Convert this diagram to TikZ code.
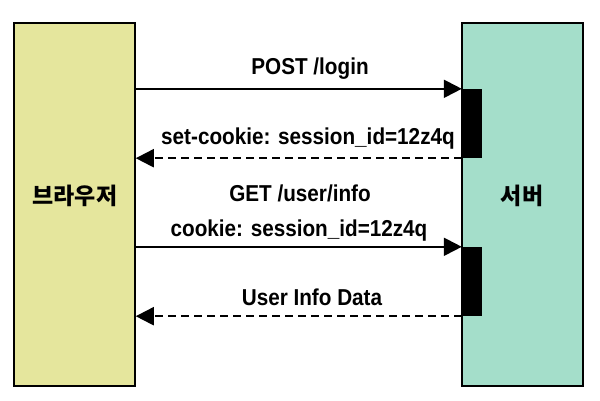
\documentclass[tikz,border=0pt]{standalone}
\usepackage{fontspec}
\setmainfont{Liberation Sans}
\newfontfamily\kr{Noto Sans CJK KR Black}
\usetikzlibrary{arrows.meta}
\definecolor{lyellow}{HTML}{E5E69D}
\definecolor{lgreen}{HTML}{A4DECA}
\newcommand{\narrowtext}[1]{\scalebox{0.9}[1]{#1}}
\tikzset{
  lane/.style={draw=black, line width=1.5pt, minimum width=121pt, minimum height=363pt, inner sep=0pt},
  actbar/.style={fill=black, draw=none, minimum width=20pt, inner sep=0pt},
  msg/.style={line width=2pt, -{Triangle[length=18pt,width=18pt]}},
  reply/.style={msg, dash pattern=on 8pt off 5pt},
  lbl/.style={font=\fontsize{23}{26}\selectfont\bfseries, inner sep=0pt},
  krlbl/.style={font=\fontsize{23}{26}\selectfont\kr, inner sep=0pt}
}
\begin{document}
\begin{tikzpicture}[x=1pt,y=-1pt]
\useasboundingbox (0,0) rectangle (600,400);
\node[lane, fill=lyellow] (browser) at (74.5,204.5) {};
\node[lane, fill=lgreen] (server) at (522.5,204.5) {};
\node[krlbl] (browserlbl) at (75,196) {브라우저};
\node[krlbl] (serverlbl) at (522,196) {서버};
\node[actbar, minimum height=69pt] (bar1) at (472,123.5) {};
\node[actbar, minimum height=69pt] (bar2) at (472,281.5) {};
\draw[msg] (browser.east |- bar1.north west) -- (bar1.north west);
\draw[reply] (bar1.south west) -- (browser.east |- bar1.south west);
\draw[msg] (browser.east |- bar2.north west) -- (bar2.north west);
\draw[reply] (bar2.south west) -- (browser.east |- bar2.south west);
\node[lbl] (m1) at (310,69) {\narrowtext{POST /login}};
\node[lbl] (m2) at (308,139) {\narrowtext{set-cookie: session\_id=12z4q}};
\node[lbl] (m3) at (300,193) {\narrowtext{GET /user/info}};
\node[lbl] (m3b) at (299,231) {\narrowtext{cookie: session\_id=12z4q}};
\node[lbl] (m4) at (312,297) {\narrowtext{User Info Data}};
\end{tikzpicture}
\end{document}
